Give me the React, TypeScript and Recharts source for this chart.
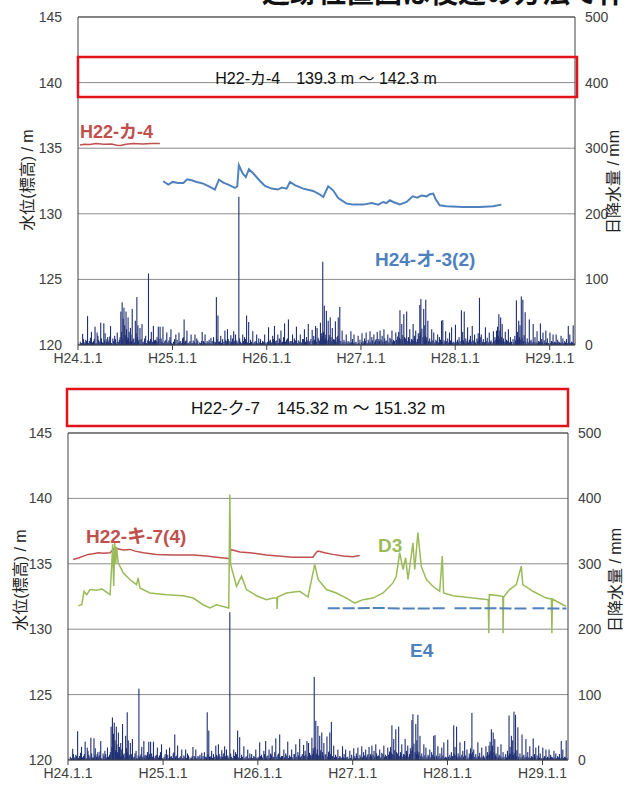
import React from "react";
import {
  ComposedChart, Bar, Line, XAxis, YAxis, CartesianGrid, ReferenceLine,
} from "recharts";

// t = days since H24.1.1 (2012-01-01)
const xTicks = [0, 366, 731, 1096, 1461, 1827];
const xTickLabels = ["H24.1.1", "H25.1.1", "H26.1.1", "H27.1.1", "H28.1.1", "H29.1.1"];
const levelTicks = [120, 125, 130, 135, 140, 145];
const rainTicks = [0, 100, 200, 300, 400, 500];

// daily rainfall (mm), [t, mm]
const rain2012 = [[18,17],[24,4],[30,8],[37,44],[44,6],[52,20],[60,6],[66,28],[74,19],[80,8],[88,34],[95,4],[100,33],[105,18],[110,5],[115,12],[120,7],[126,29],[135,10],[142,14],[147,4],[152,19],[160,8],[166,51],[171,65],[175,40],[178,57],[181,30],[186,51],[190,12],[194,42],[198,20],[203,26],[207,6],[210,55],[216,10],[222,37],[228,73],[232,30],[236,8],[240,26],[248,32],[255,5],[262,14],[266,3],[273,109],[278,6],[284,20],[292,29],[296,7],[300,8],[306,12],[311,28],[318,28],[322,10],[329,28],[336,6],[344,19],[352,7],[356,12],[360,24]];
const rain2013 = [[370,5],[379,16],[384,8],[391,19],[398,6],[405,10],[411,39],[416,6],[422,22],[430,4],[438,16],[446,7],[453,16],[460,10],[470,4],[481,20],[486,6],[492,16],[500,6],[508,8],[515,11],[525,12],[530,5],[536,73],[542,45],[548,5],[553,14],[560,9],[569,22],[574,6],[579,24],[585,6],[592,15],[598,10],[603,21],[610,16],[615,7],[623,226],[630,5],[638,16],[645,12],[653,45],[661,35],[668,8],[677,21],[685,5],[692,16],[700,10],[707,9],[715,6],[723,16],[728,4]];
const rain2014 = [[735,5],[738,27],[745,8],[754,14],[761,29],[766,6],[774,16],[780,10],[786,22],[792,5],[800,33],[808,8],[815,39],[822,6],[831,16],[838,10],[846,28],[853,7],[861,16],[870,9],[877,24],[885,12],[892,32],[898,6],[907,23],[913,14],[920,29],[926,26],[933,8],[939,34],[944,18],[948,127],[954,60],[958,10],[962,52],[969,37],[973,15],[977,42],[985,26],[990,9],[997,36],[1003,12],[1008,42],[1014,58],[1023,22],[1030,8],[1039,16],[1046,6],[1057,21],[1063,9],[1069,16],[1077,5],[1085,14],[1092,8]];
const rain2015 = [[1100,18],[1104,6],[1110,10],[1116,19],[1124,8],[1131,21],[1138,12],[1146,16],[1152,7],[1159,20],[1165,9],[1170,22],[1178,14],[1185,24],[1192,6],[1200,16],[1208,11],[1216,22],[1222,8],[1231,19],[1238,13],[1242,20],[1247,53],[1254,32],[1258,15],[1262,47],[1268,10],[1273,51],[1280,12],[1285,24],[1292,9],[1298,32],[1303,14],[1308,22],[1318,18],[1324,61],[1328,70],[1332,25],[1339,55],[1343,30],[1347,69],[1351,12],[1355,37],[1362,10],[1370,24],[1378,19],[1386,8],[1393,16],[1400,12],[1408,37],[1413,38],[1418,7],[1424,21],[1432,10],[1439,19],[1447,27],[1453,5]];
const rain2016 = [[1462,31],[1470,8],[1476,12],[1485,53],[1490,20],[1496,51],[1502,10],[1509,27],[1516,8],[1520,14],[1527,29],[1536,16],[1545,10],[1550,18],[1555,72],[1562,16],[1570,9],[1578,27],[1585,11],[1593,19],[1600,7],[1609,21],[1615,12],[1621,22],[1625,28],[1630,47],[1634,22],[1637,42],[1643,32],[1648,10],[1655,20],[1660,8],[1667,24],[1675,12],[1685,9],[1692,14],[1698,68],[1702,20],[1707,37],[1712,30],[1717,74],[1723,69],[1728,15],[1732,50],[1740,10],[1748,39],[1755,8],[1763,32],[1770,12],[1778,21],[1784,6],[1791,33],[1796,9],[1801,19],[1806,7],[1812,22],[1818,10]];
const rain2017 = [[1828,19],[1834,6],[1840,16],[1846,5],[1852,16],[1858,8],[1865,4],[1871,14],[1878,10],[1885,6],[1892,9],[1899,29],[1905,16],[1912,5],[1918,30]];

// light rain days (mm), [t, mm]
const rainLight2012 = [[3,2],[9,5],[13,3],[21,9],[27,2],[33,6],[40,3],[48,11],[56,4],[63,9],[70,3],[77,14],[84,5],[91,10],[98,3],[103,7],[108,2],[112,9],[118,4],[123,13],[130,3],[138,6],[145,9],[150,2],[156,5],[163,12],[169,20],[173,9],[183,15],[188,24],[192,8],[196,11],[201,5],[205,16],[213,8],[219,4],[225,18],[230,12],[234,5],[244,9],[251,4],[258,10],[264,2],[270,7],[276,4],[281,9],[288,5],[294,3],[303,6],[309,4],[314,9],[325,5],[332,3],[340,8],[348,4],[358,5],[363,3]];
const rainLight2013 = [[367,2],[374,9],[388,3],[394,5],[402,3],[408,12],[414,4],[419,7],[426,3],[434,6],[442,3],[450,5],[457,3],[464,7],[475,3],[478,6],[489,4],[496,3],[504,5],[512,3],[520,6],[533,4],[539,9],[545,5],[551,6],[556,3],[565,5],[572,8],[577,3],[582,9],[589,4],[595,5],[601,3],[607,6],[612,3],[619,4],[626,10],[634,3],[641,6],[649,9],[657,4],[664,3],[672,5],[681,3],[689,6],[696,3],[704,4],[711,3],[719,5],[725,2]];
const rainLight2014 = [[733,3],[741,6],[749,4],[757,9],[764,3],[770,7],[777,3],[783,8],[789,4],[796,12],[804,5],[811,10],[818,4],[826,6],[834,4],[842,7],[849,3],[857,5],[865,4],[873,9],[881,5],[888,7],[895,4],[902,9],[910,6],[916,8],[923,5],[930,11],[936,6],[942,9],[946,14],[951,20],[956,8],[960,16],[965,7],[971,10],[980,12],[983,6],[993,8],[1000,5],[1006,14],[1011,9],[1018,6],[1026,4],[1034,5],[1042,3],[1050,5],[1054,3],[1060,4],[1066,3],[1073,4],[1081,2],[1088,3]];
const rainLight2015 = [[1098,4],[1107,3],[1113,6],[1120,3],[1127,5],[1134,4],[1141,7],[1149,4],[1155,9],[1162,5],[1168,6],[1174,8],[1181,5],[1188,10],[1196,7],[1204,4],[1212,9],[1219,5],[1226,6],[1234,8],[1245,11],[1250,9],[1256,7],[1265,12],[1271,8],[1277,6],[1283,9],[1289,5],[1295,8],[1301,6],[1306,10],[1312,5],[1315,9],[1321,14],[1326,20],[1336,12],[1341,9],[1345,14],[1349,8],[1358,6],[1366,5],[1374,7],[1382,4],[1389,6],[1397,4],[1404,8],[1411,5],[1421,4],[1428,6],[1436,4],[1443,7],[1450,3],[1457,4]];
const rainLight2016 = [[1465,5],[1473,4],[1480,6],[1487,9],[1493,7],[1499,4],[1506,6],[1512,4],[1523,5],[1531,7],[1540,4],[1548,6],[1553,9],[1558,12],[1566,5],[1574,4],[1581,6],[1589,4],[1597,5],[1604,4],[1612,6],[1618,8],[1623,11],[1628,14],[1632,9],[1640,12],[1646,7],[1651,5],[1658,4],[1664,6],[1671,4],[1679,5],[1688,4],[1695,7],[1700,10],[1705,9],[1710,12],[1715,8],[1720,11],[1726,6],[1735,5],[1744,4],[1751,6],[1759,4],[1766,5],[1774,4],[1781,3],[1788,5],[1794,3],[1799,4],[1809,3],[1815,4],[1822,3]];
const rainLight2017 = [[1831,3],[1837,5],[1843,3],[1849,4],[1855,3],[1862,5],[1868,3],[1875,4],[1882,3],[1888,4],[1895,3],[1902,5],[1908,3],[1915,4],[1921,3]];

// water levels (m), [t, level]
const h22ka4 = [[8,135.25],[25,135.3],[45,135.28],[70,135.35],[100,135.3],[130,135.32],[150,135.22],[165,135.2],[185,135.3],[215,135.35],[250,135.32],[285,135.36],[317,135.35]];
const h24o3 = [[330,132.48],[350,132.23],[367,132.43],[388,132.35],[408,132.35],[423,132.63],[440,132.56],[460,132.43],[485,132.3],[511,132.05],[530,131.85],[546,132.6],[563,132.38],[582,132.23],[608,131.97],[617,132.1],[623,133.7],[638,133.07],[650,132.8],[662,133.4],[679,133.07],[705,132.5],[724,132.12],[750,131.92],[775,131.85],[789,132.0],[808,131.92],[821,132.43],[840,132.18],[872,131.92],[911,131.74],[937,131.47],[950,131.28],[969,132.1],[988,131.79],[1008,131.2],[1040,130.78],[1066,130.7],[1105,130.7],[1137,130.82],[1163,130.7],[1182,130.9],[1195,130.82],[1208,131.03],[1221,130.9],[1247,130.72],[1273,130.9],[1296,131.33],[1314,131.23],[1331,131.4],[1350,131.33],[1363,131.49],[1376,131.54],[1386,131.08],[1401,130.65],[1427,130.57],[1492,130.52],[1556,130.52],[1608,130.57],[1640,130.7]];
const h22ki7 = [[20,135.33],[40,135.45],[59,135.59],[78,135.72],[97,135.77],[117,135.85],[136,135.8],[162,135.85],[172,136.05],[181,136.23],[190,136.15],[213,136.05],[238,136.1],[258,135.97],[290,135.85],[341,135.72],[405,135.67],[482,135.67],[533,135.59],[572,135.51],[617,135.41],[624,135.4],[626,136.1],[662,135.9],[700,135.85],[764,135.67],[867,135.51],[943,135.51],[957,135.9],[963,135.97],[988,135.85],[1020,135.72],[1059,135.59],[1097,135.54],[1123,135.64]];
const d3 = [[40,131.8],[53,131.87],[62,132.9],[72,132.64],[85,133.03],[110,132.97],[130,133.08],[162,132.64],[168,134.82],[172,136.5],[176,133.3],[180,136.6],[184,135.0],[187,136.3],[193,135.08],[213,134.3],[238,133.8],[264,133.41],[270,133.92],[277,133.15],[315,132.77],[380,132.64],[443,132.56],[482,132.38],[520,131.87],[546,131.62],[572,131.87],[619,131.62],[623,140.3],[626,134.95],[649,133.28],[668,134.05],[687,133.03],[726,132.56],[764,132.26],[790,132.38],[804,132.4],[805,131.54],[807,132.46],[841,132.77],[892,132.9],[924,132.46],[950,134.95],[963,133.8],[995,133.03],[1033,132.77],[1072,132.38],[1104,132.0],[1136,132.26],[1174,132.38],[1213,132.77],[1232,133.15],[1251,133.54],[1264,134.05],[1277,135.85],[1290,134.56],[1300,135.46],[1309,133.8],[1328,136.6],[1335,134.56],[1347,137.38],[1360,134.82],[1380,133.8],[1405,133.28],[1431,132.9],[1441,135.59],[1446,132.77],[1482,132.56],[1559,132.38],[1618,132.26],[1620,129.7],[1622,132.64],[1662,132.56],[1674,132.5],[1675,129.7],[1677,132.46],[1700,133.03],[1726,133.41],[1745,134.82],[1751,133.41],[1790,132.9],[1841,132.38],[1861,132.31],[1863,129.7],[1865,132.31],[1905,131.87],[1918,131.74]];
const e4 = [[1000,131.6],[1100,131.6],[1200,131.62],[1300,131.58],[1458,131.6],[1473,null],[1488,131.6],[1600,131.6],[1765,131.58],[1777,null],[1788,131.6],[1919,131.58]];

const rainData = [
  ...rain2012, ...rain2013, ...rain2014, ...rain2015, ...rain2016, ...rain2017,
  ...rainLight2012, ...rainLight2013, ...rainLight2014, ...rainLight2015, ...rainLight2016, ...rainLight2017,
]
  .sort((a, b) => a[0] - b[0])
  .map(([t, mm]) => ({ t, rain: mm }));
const toPts = (arr: (number | null)[][]) => arr.map(([t, v]) => ({ t, v }));

const FONT = "'Liberation Sans', Arial, 'Noto Sans CJK JP', sans-serif";
const TICK = { fontSize: 14, fill: "#404040", fontFamily: FONT };

// thin daily bar, centred on the day's x position
const RainStick = (p: any) => {
  const { x, y, width, height } = p;
  if (height == null || height <= 0) return null;
  return <rect x={x + width / 2 - 0.55} y={y} width={1.1} height={height} fill="#1f2f73" />;
};

interface PanelProps {
  height: number;
  top: number;
  leftW: number;
  rightW: number;
  lines: { data: (number | null)[][]; color: string; width: number; dash?: string }[];
}

const Panel = ({ height, top, leftW, rightW, lines }: PanelProps) => (
  <ComposedChart
    width={631}
    height={height}
    data={rainData}
    margin={{ top, right: 0, bottom: 2, left: 0 }}
  >
    <CartesianGrid vertical={false} stroke="#8c8c8c" yAxisId="l" />
    <XAxis
      type="number"
      dataKey="t"
      domain={[0, 1925]}
      ticks={xTicks}
      tickFormatter={(v: number) => xTickLabels[xTicks.indexOf(v)]}
      height={25}
      tick={TICK}
      stroke="#404040"
      tickSize={5}
      tickMargin={3}
      interval={0}
    />
    <YAxis
      yAxisId="l"
      domain={[120, 145]}
      ticks={levelTicks}
      width={leftW}
      tick={TICK}
      tickLine={false}
      tickMargin={10}
      stroke="#404040"
      interval={0}
    />
    <YAxis
      yAxisId="r"
      orientation="right"
      domain={[0, 500]}
      ticks={rainTicks}
      width={rightW}
      tick={TICK}
      tickLine={false}
      tickMargin={4}
      stroke="#404040"
      interval={0}
    />
    <ReferenceLine yAxisId="l" y={145} stroke="#404040" />
    <Bar yAxisId="r" dataKey="rain" fill="#1f2f73" shape={RainStick} isAnimationActive={false} />
    {lines.map((ln, i) => (
      <Line
        key={i}
        yAxisId="l"
        data={toPts(ln.data)}
        dataKey="v"
        type="linear"
        stroke={ln.color}
        strokeWidth={ln.width}
        strokeDasharray={ln.dash}
        dot={false}
        activeDot={false}
        isAnimationActive={false}
      />
    ))}
  </ComposedChart>
);

const App = () => {
  return (
    <div style={{ position: "absolute", left: 0, top: 0, width: 631, height: 787, background: "#fff", fontFamily: FONT }}>
      <div style={{ position: "absolute", left: 0, top: 0 }}>
        <Panel
          height={372}
          top={17}
          leftW={78}
          rightW={56}
          lines={[
            { data: h22ka4, color: "#c0504d", width: 1.5 },
            { data: h24o3, color: "#4f81bd", width: 2 },
          ]}
        />
      </div>
      <div style={{ position: "absolute", left: 0, top: 400 }}>
        <Panel
          height={387}
          top={33}
          leftW={68}
          rightW={63}
          lines={[
            { data: h22ki7, color: "#c0504d", width: 1.5 },
            { data: d3, color: "#9bbb59", width: 1.5 },
            { data: e4, color: "#4f81bd", width: 2, dash: "12 3" },
          ]}
        />
      </div>
      <svg width={631} height={787} style={{ position: "absolute", left: 0, top: 0, pointerEvents: "none" }}>
        <text x={262} y={3} fontSize={28} fontWeight={700} fill="#111" fontFamily="'Noto Sans CJK JP', sans-serif">追跡位置図は後述の方法で作</text>

        <rect x={78} y={57} width={499} height={40} fill="none" stroke="#e3131b" strokeWidth={2.5} />
        <text x={326} y={78} fontSize={16} textAnchor="middle" dominantBaseline="central" fill="#111">H22-カ-4　139.3 m ～ 142.3 m</text>
        <rect x={67} y={389} width={501} height={37} fill="#fff" stroke="#e3131b" strokeWidth={2.5} />
        <text x={318} y={408} fontSize={17} textAnchor="middle" dominantBaseline="central" fill="#111">H22-ク-7　145.32 m ～ 151.32 m</text>

        <text x={27} y={180} fontSize={16} fill="#222" textAnchor="middle" dominantBaseline="central" transform="rotate(-90 27 180)">水位(標高) / m</text>
        <text x={613} y={182} fontSize={16} fill="#222" textAnchor="middle" dominantBaseline="central" transform="rotate(-90 613 182)">日降水量 / mm</text>
        <text x={20} y={580} fontSize={16} fill="#222" textAnchor="middle" dominantBaseline="central" transform="rotate(-90 20 580)">水位(標高) / m</text>
        <text x={615} y={580} fontSize={16} fill="#222" textAnchor="middle" dominantBaseline="central" transform="rotate(-90 615 580)">日降水量 / mm</text>

        <text x={80} y={138} fontSize={18} fontWeight={700} fill="#c0504d">H22-カ-4</text>
        <text x={375} y={266} fontSize={19} fontWeight={700} fill="#4f81bd">H24-オ-3(2)</text>
        <text x={86} y={543} fontSize={19} fontWeight={700} fill="#c0504d">H22-キ-7(4)</text>
        <text x={378} y={552} fontSize={19} fontWeight={700} fill="#9bbb59">D3</text>
        <text x={410} y={657} fontSize={19} fontWeight={700} fill="#4f81bd">E4</text>
      </svg>
    </div>
  );
};

export default App;
